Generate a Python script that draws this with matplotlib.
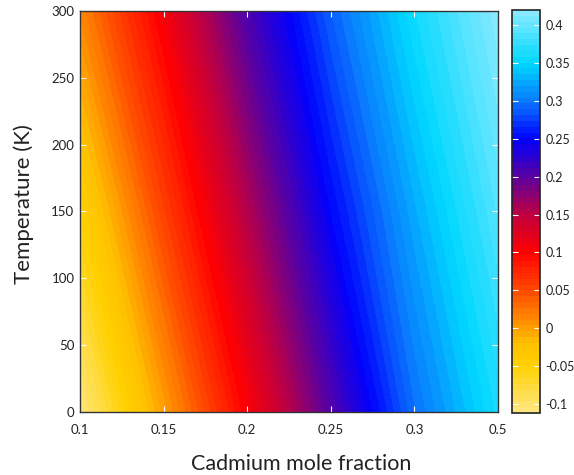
import numpy as np
import matplotlib
matplotlib.use("Agg")
import matplotlib.pyplot as plt
from matplotlib.colors import LinearSegmentedColormap

# Data (band gap in eV)
cd_fraction = [0.10, 0.15, 0.20, 0.25, 0.30, 0.35]
temperature = [0, 150, 300]
eg_T0 = [-0.110, -0.002, 0.102, 0.203, 0.295, 0.360]
eg_T150 = [-0.050, 0.055, 0.155, 0.250, 0.325, 0.390]
eg_T300 = [0.012, 0.107, 0.207, 0.288, 0.357, 0.418]

x_ticks = [0.10, 0.15, 0.20, 0.25, 0.30, 0.35]
x_ticklabels = ["0.1", "0.15", "0.2", "0.25", "0.3", "0.5"]
y_ticks = [0, 50, 100, 150, 200, 250, 300]
cb_ticks = [-0.1, -0.05, 0, 0.05, 0.1, 0.15, 0.2, 0.25, 0.3, 0.35, 0.4]
cb_ticklabels = ["-0.1", "-0.05", "0", "0.05", "0.1", "0.15", "0.2", "0.25", "0.3", "0.35", "0.4"]

vmin, vmax = -0.112, 0.42

anchors = [(-0.112, "#FFE680"), (-0.08, "#FFDC40"), (-0.05, "#FFD000"),
           (-0.02, "#FFC000"), (0.0, "#FF9C00"), (0.05, "#FF4800"),
           (0.10, "#FF0000"), (0.15, "#C00040"),
           (0.20, "#5A00A0"), (0.25, "#0000FF"), (0.30, "#0A78FF"),
           (0.35, "#00D8FF"), (0.42, "#8AEAFF")]
cmap = LinearSegmentedColormap.from_list(
    "hgcdte", [((v - vmin) / (vmax - vmin), c) for v, c in anchors])

plt.rcParams['font.family'] = ['Lato', 'DejaVu Sans']

fig = plt.figure(figsize=(5.74, 4.75), dpi=100)
ax = fig.add_axes([80/574, 1 - 412/475, 418/574, 401/475])
cax = fig.add_axes([512/574, 1 - 413/475, 28/574, 403/475])

X, Y = np.meshgrid(cd_fraction, temperature)
Z = np.array([eg_T0, eg_T150, eg_T300])
levels = np.linspace(vmin, vmax, 70)
cf = ax.contourf(X, Y, Z, levels=levels, cmap=cmap, vmin=vmin, vmax=vmax)
cf.set_edgecolor('face')
cf.set_linewidth(0.4)

ax.set_xlim(0.1, 0.35)
ax.set_ylim(0, 300)
ax.set_xticks(x_ticks)
ax.set_xticklabels(x_ticklabels)
ax.set_yticks(y_ticks)
ax.tick_params(axis='both', direction='in', color='white', length=4, width=0.8,
               labelsize=9.5, labelcolor='#222222', top=True, right=True)
ax.tick_params(axis='x', pad=9)
ax.tick_params(axis='y', pad=4)
for s in ax.spines.values():
    s.set_color('#333333')
    s.set_linewidth(1.0)
ax.set_xlabel("Cadmium mole fraction", fontsize=15.5, color='#222222')
ax.set_ylabel("Temperature (K)", fontsize=16, color='#222222')
ax.xaxis.set_label_coords(0.529, -0.105)
ax.yaxis.set_label_coords(-0.11, 0.519)

cb = fig.colorbar(cf, cax=cax, ticks=cb_ticks)
cb.ax.set_yticklabels(cb_ticklabels)
cb.ax.set_ylim(vmin, vmax)
cb.ax.tick_params(direction='in', color='white', length=4, width=0.8,
                  labelsize=9, labelcolor='#222222', pad=4, left=True, right=True)
cb.outline.set_edgecolor('#222222')
cb.outline.set_linewidth(1.2)

fig.savefig("out.png", dpi=100)
